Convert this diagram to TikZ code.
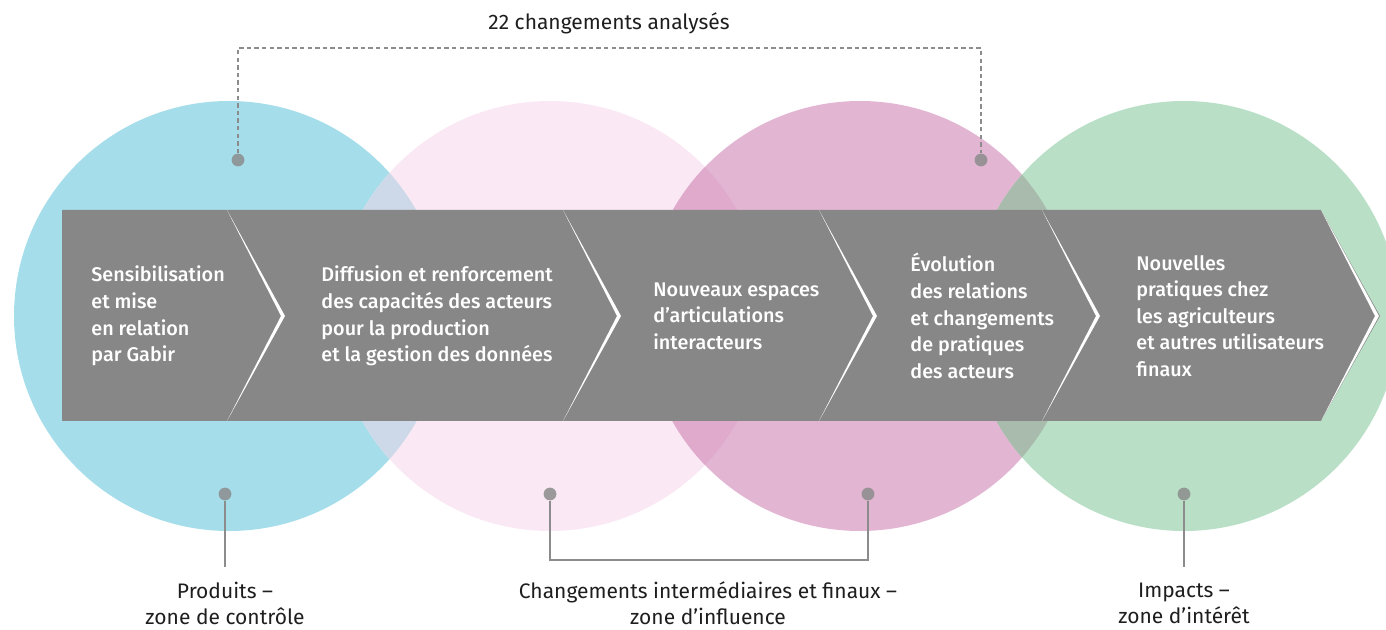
\documentclass[tikz,border=0pt]{standalone}
\usepackage{fontspec}
\setmainfont{Fira Sans}
\newfontfamily\bandfont{Fira Sans}[UprightFont=* Medium]
\usepackage{tikz}
\definecolor{zoneblue}{HTML}{A5DEEA}
\definecolor{zonepink}{HTML}{FAE9F4}
\definecolor{zonemagenta}{HTML}{E2B6D3}
\definecolor{zonegreen}{HTML}{BADFC7}
\definecolor{lensbp}{HTML}{CDD9E8}
\definecolor{lenspm}{HTML}{DFAACC}
\definecolor{lensmg}{HTML}{A9BBAC}
\definecolor{bandgray}{HTML}{878787}
\definecolor{leadgray}{HTML}{8C8C8C}
\definecolor{labelink}{HTML}{1E1E1E}
\tikzstyle{dot}=[circle,fill=leadgray,fill opacity=0.85,minimum size=6.4pt,inner sep=0pt]
\tikzstyle{lead} = [draw,leadgray,line width=1pt]
\tikzstyle{dashlead} = [draw,leadgray,line width=1pt,dash pattern=on 2.2pt off 1.6pt]
\tikzstyle{steptext}=[anchor=west,align=left,inner sep=0pt,text=white,font=\bandfont\fontsize{9.9}{13.3}\selectfont]
\tikzstyle{zonetext}=[align=center,inner sep=0pt,text=labelink,font=\fontsize{10.5}{13}\selectfont]

\begin{document}
\begin{tikzpicture}[x=0.5pt,y=-0.5pt]
    \useasboundingbox (0,0) rectangle (1386,630);
    % First we draw the four zones
    \foreach \pos/\col in {{(229,316)/zoneblue}, {(550,316)/zonepink}, {(860,316)/zonemagenta}, {(1184,316)/zonegreen}}
        \fill[\col] \pos circle (215);
    % Overlaps of neighbouring zones
    \foreach \posa/\posb/\col in {{(229,316)/(550,316)/lensbp}, {(550,316)/(860,316)/lenspm}, {(860,316)/(1184,316)/lensmg}}
    {
        \begin{scope}
            \clip \posa circle (215);
            \fill[\col] \posb circle (215);
        \end{scope}
    }
    % The grey band with its chevrons
    \fill[bandgray] (62,210) -- (1321,210) -- (1380,316) -- (1321,421) -- (62,421) -- cycle;
    \foreach \x in {227,563,819,1042,1321}
        \fill[white] (\x,210) -- (\x+58,316) -- (\x,421) -- (\x+54,316) -- cycle;
    % Steps
    \foreach \x/\name/\txt in {91/sensib/{Sensibilisation\\et mise\\en relation\\par Gabir},
        321/diffus/{Diffusion et renforcement\\des capacités des acteurs\\pour la production\\et la gestion des données},
        653/espace/{Nouveaux espaces\\d’articulations\\interacteurs},
        910/evol/{Évolution\\des relations\\et changements\\de pratiques\\des acteurs},
        1136/prat/{Nouvelles\\pratiques chez\\les agriculteurs\\et autres utilisateurs\\finaux}}
        \node[steptext] (\name) at (\x,316) {\txt};
    % Dots
    \foreach \pos/\name in {{(238,160)/topA}, {(981,160)/topB}, {(225,494)/prod}, {(550,494)/interm}, {(868,494)/final}, {(1184,494)/impact}}
        \node[dot] (\name) at \pos {};
    \coordinate (topAup) at (238,48);
    \coordinate (topBup) at (981,48);
    \coordinate (prodend) at (225,567);
    \coordinate (intermend) at (550,560);
    \coordinate (finalend) at (868,560);
    \coordinate (impactend) at (1184,567);
    % Connect dots with leaders
    \path[dashlead] (topA) -- (topAup) -- (topBup) -- (topB);
    \path[lead] (interm) -- (intermend) -- (finalend) -- (final);
    \foreach \source/ \dest in {prod/prodend, impact/impactend}
        \path[lead] (\source) -- (\dest) ;
    % Labels
    \node[zonetext] (analyses) at (609,23) {22 changements analysés};
    \node[zonetext] (produits) at (225,603) {Produits –\\zone de contrôle};
    \node[zonetext] (changements) at (708,603) {Changements intermédiaires et finaux –\\zone d’influence};
    \node[zonetext] (impacts) at (1184,603) {Impacts –\\zone d’intérêt};
\end{tikzpicture}
\end{document}
